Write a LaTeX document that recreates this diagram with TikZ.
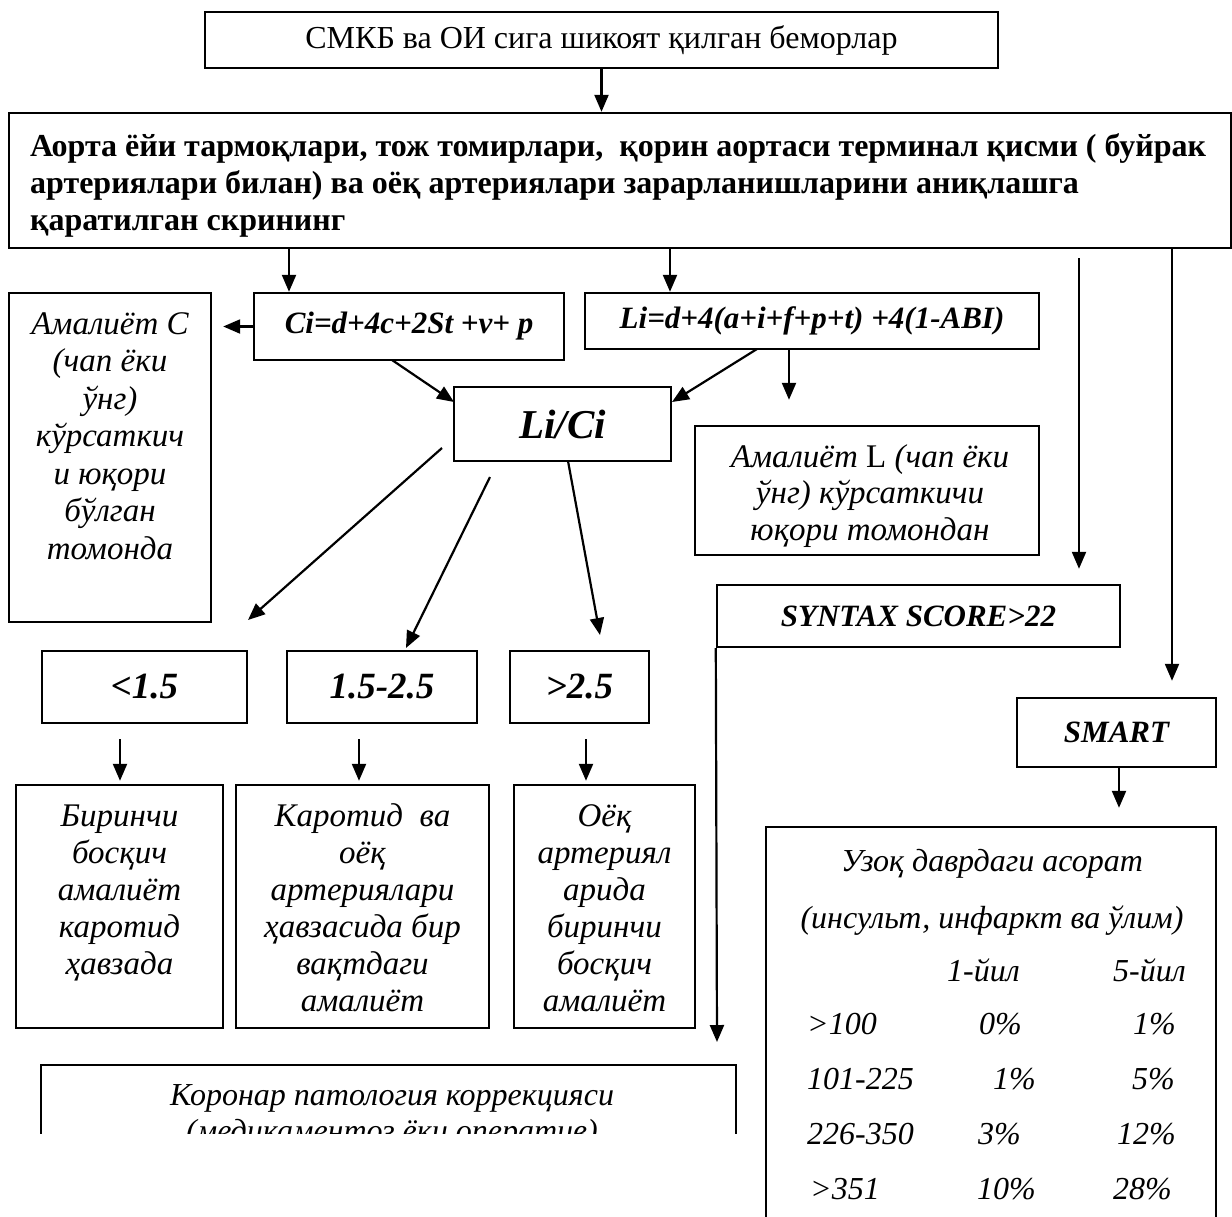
\documentclass[tikz,border=0pt]{standalone}
\usepackage{fontspec}
\setmainfont{Liberation Serif}
\usetikzlibrary{arrows.meta,calc}
\tikzset{
  box/.style={draw, line width=2.4pt, inner sep=0pt, align=center},
  arr/.style={line width=2.2pt, -{Triangle[length=17pt,width=14pt]}},
  itx/.style={font=\fontsize{33}{37.5}\selectfont\itshape, align=center, inner sep=0pt},
  bix/.style={font=\fontsize{31}{36}\selectfont\bfseries\itshape, inner sep=0pt},
  rix/.style={font=\fontsize{37}{42}\selectfont\bfseries\itshape, inner sep=0pt},
  tix/.style={font=\fontsize{32}{36}\selectfont\itshape, inner sep=0pt},
}
\begin{document}
\begin{tikzpicture}[x=1pt,y=-1pt]
\useasboundingbox[fill=white] (0,0) rectangle (1232,1216);

% boxes (multi-line texts are anchored at the baseline of their last line)
\node[box, minimum width=793pt, minimum height=56pt, font=\fontsize{32}{38}\selectfont] (top) at (601.5,40) {СМКБ ва ОИ сига шикоят қилган беморлар};
\node[box, minimum width=1222pt, minimum height=135pt] (big) at (620,180.5) {};
\node[anchor=base west, inner sep=0pt, align=left, font=\fontsize{32}{37}\selectfont\bfseries] (bigtxt) at (30,230)
 {Аорта ёйи тармоқлари, тож томирлари,\ \ қорин аортаси терминал қисми ( буйрак\\
  артериялари билан) ва оёқ артериялари зарарланишларини аниқлашга\\
  қаратилган скрининг};

\node[box, minimum width=310pt, minimum height=67pt] (ci) at (409,326.5) {};
\node[bix] (citxt) at (ci.center) {Ci=d+4c+2St +v+ p};
\node[box, minimum width=454pt, minimum height=56pt] (li) at (812,321) {};
\node[bix] (litxt) at (li.center) {Li=d+4(a+i+f+p+t) +4(1-ABI)};

\node[box, minimum width=202pt, minimum height=329pt] (amc) at (110,457.5) {};
\node[itx, anchor=base] (amctxt) at (110,559) {Амалиёт C\\(чап ёки\\ўнг)\\кўрсаткич\\и юқори\\бўлган\\томонда};

\node[box, minimum width=217pt, minimum height=74pt] (lici) at (562.5,424) {};
\node[font=\fontsize{41}{48}\selectfont\bfseries\itshape, inner sep=0pt] (licitxt) at (lici.center) {Li/Ci};

\node[box, minimum width=344pt, minimum height=129pt] (aml) at (867,490.5) {};
\node[itx, anchor=base, font=\fontsize{33}{36.5}\selectfont\itshape] (amltxt) at (870,540) {Амалиёт {\upshape L} (чап ёки\\ўнг) кўрсаткичи\\юқори томондан};

\node[box, minimum width=403pt, minimum height=62pt] (syn) at (918.5,616) {};
\node[bix, font=\fontsize{31}{36}\selectfont\bfseries\itshape] (syntxt) at (syn.center) {SYNTAX SCORE>22};

\node[box, minimum width=199pt, minimum height=69pt] (smart) at (1116.5,732.5) {};
\node[bix] (smarttxt) at (smart.center) {SMART};

\node[box, minimum width=205pt, minimum height=72pt] (r1) at (144.5,687) {};
\node[rix] (r1txt) at (r1.center) {<1.5};
\node[box, minimum width=190pt, minimum height=72pt] (r2) at (382,687) {};
\node[rix] (r2txt) at (r2.center) {1.5-2.5};
\node[box, minimum width=139pt, minimum height=72pt] (r3) at (579.5,687) {};
\node[rix] (r3txt) at (r3.center) {>2.5};

\node[box, minimum width=207pt, minimum height=243pt] (b1) at (119.5,906.5) {};
\node[itx, anchor=base, font=\fontsize{33}{37}\selectfont\itshape] (b1txt) at (119.5,974) {Биринчи\\босқич\\амалиёт\\каротид\\ҳавзада};
\node[box, minimum width=253pt, minimum height=243pt] (b2) at (362.5,906.5) {};
\node[itx, anchor=base, font=\fontsize{33}{37}\selectfont\itshape] (b2txt) at (362.5,1011) {Каротид\ \ ва\\оёқ\\артериялари\\ҳавзасида бир\\вақтдаги\\амалиёт};
\node[box, minimum width=181pt, minimum height=243pt] (b3) at (604.5,906.5) {};
\node[itx, anchor=base, font=\fontsize{33}{37}\selectfont\itshape] (b3txt) at (604.5,1011) {Оёқ\\артериял\\арида\\биринчи\\босқич\\амалиёт};

% coronary box, cut at the bottom as in the reference
\begin{scope}
\clip (0,1000) rectangle (1232,1133);
\node[box, minimum width=695pt, minimum height=120pt] (cor) at (388.5,1125) {};
\node[itx, anchor=base, font=\fontsize{32}{36}\selectfont\itshape] (cortxt) at (392,1141) {Коронар патология коррекцияси\\(медикаментоз ёки оператив)};
\end{scope}

% table box
\node[box, minimum width=450pt, minimum height=410pt] (tbl) at (991,1032) {};
\node[tix, anchor=base] (t1) at (992,871) {Узоқ даврдаги асорат};
\node[tix, anchor=base] (t2) at (992,928) {(инсульт, инфаркт ва ўлим)};
\node[tix, anchor=base west] (h1) at (947,981) {1-йил};
\node[tix, anchor=base west] (h2) at (1113,981) {5-йил};
\node[tix, anchor=base west] (a1) at (807,1034) {>100};
\node[tix, anchor=base west] (a2) at (979,1034) {0\%};
\node[tix, anchor=base west] (a3) at (1133,1034) {1\%};
\node[tix, anchor=base west] (c1) at (807,1089) {101-225};
\node[tix, anchor=base west] (c2) at (993,1089) {1\%};
\node[tix, anchor=base west] (c3) at (1132,1089) {5\%};
\node[tix, anchor=base west] (d1) at (807,1144) {226-350};
\node[tix, anchor=base west] (d2) at (978,1144) {3\%};
\node[tix, anchor=base west] (d3) at (1117,1144) {12\%};
\node[tix, anchor=base west] (e1) at (810,1199) {>351};
\node[tix, anchor=base west] (e2) at (977,1199) {10\%};
\node[tix, anchor=base west] (e3) at (1113,1199) {28\%};

% free connector ends
\coordinate (xci) at (289,0);
\coordinate (xli) at (670,0);
\coordinate (xsy) at (1079,0);
\coordinate (xsm) at (1172,0);
\coordinate (ciA) at (392,360);
\coordinate (ciB) at (454,402);
\coordinate (liA) at (757,349);
\coordinate (liB) at (672,402);
\coordinate (xal) at (789,0);
\coordinate (s1) at (442,448);
\coordinate (e1p) at (248,620);
\coordinate (s2) at (490,477);
\coordinate (e2p) at (406,648);
\coordinate (s3) at (568,461);
\coordinate (e3p) at (600,635);
\coordinate (corTip) at (717,1042);
\coordinate (xsmart) at (1119,0);

% connectors
\draw[arr] (top.south) -- (top.south |- big.north);
\draw[arr] (xci |- big.south) -- (xci |- ci.north);
\draw[arr] (xli |- big.south) -- (xli |- li.north);
\draw[arr, shorten <=9pt, shorten >=15pt] (xsy |- big.south) -- (xsy |- syn.north);
\draw[arr, shorten >=16pt] (xsm |- big.south) -- (xsm |- smart.north);
\draw[arr, shorten >=11pt] (ci.west) -- (ci.west -| amc.east);
\draw[arr] (ciA) -- (ciB);
\draw[arr] (liA) -- (liB);
\draw[arr, shorten >=25pt] (xal |- li.south) -- (xal |- aml.north);
\draw[arr] (s1) -- (e1p);
\draw[arr] (s2) -- (e2p);
\draw[arr] (s3) -- (e3p);
\foreach \r/\b/\xx in {r1/b1/120, r2/b2/359, r3/b3/586}{
  \draw[arr, shorten <=15pt, shorten >=3pt] (\xx,0 |- \r.south) -- (\xx,0 |- \b.north);
}
\draw[arr] (syn.south west) -- (corTip);
\draw[arr, shorten >=18pt] (xsmart |- smart.south) -- (xsmart |- tbl.north);
\end{tikzpicture}
\end{document}
